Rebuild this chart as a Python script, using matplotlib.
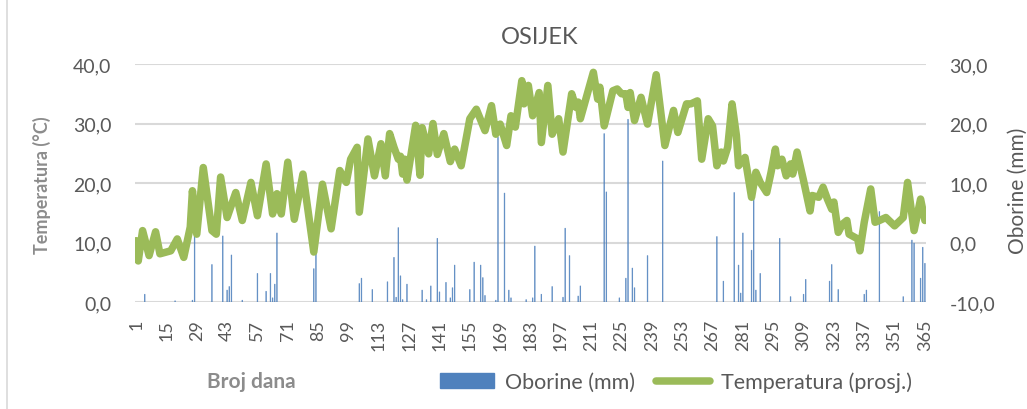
import matplotlib
matplotlib.use('Agg')
import matplotlib.pyplot as plt
from matplotlib.patches import Patch
from matplotlib.lines import Line2D

# temperature (right-hand scale values) at its turning points
temp_days = [1, 2, 4, 7, 10, 12, 17, 20, 23, 26, 27, 29, 32, 36, 38, 40, 43, 47, 50,
             54, 57, 61, 64, 66, 68, 71, 74, 78, 83, 87, 91, 95, 98, 100, 103, 104,
             108, 111, 114, 116, 118, 120, 122, 123, 124, 125, 126, 130, 132, 133,
             136, 138, 140, 143, 146, 148, 151, 155, 158, 162, 165, 167, 169, 172,
             174, 176, 179, 180, 182, 184, 187, 188, 191, 193, 196, 198, 202, 204,
             205, 206, 209, 212, 214, 215, 217, 221, 223, 225, 227, 228, 229, 231,
             234, 237, 241, 245, 249, 251, 255, 257, 260, 262, 265, 267, 269, 271,
             272, 274, 276, 278, 279, 282, 285, 287, 289, 292, 294, 296, 297, 299,
             301, 303, 304, 306, 309, 312, 313, 316, 318, 320, 322, 323, 325, 327,
             329, 330, 334, 335, 337, 340, 342, 344, 347, 351, 355, 357, 360, 363, 365]
temp_vals = [0.3, -3.1, 2.0, -2.2, 1.8, -1.9, -1.4, 0.6, -2.5, 2.6, 8.7, 1.4, 12.6, 2.0,
             1.4, 11.0, 4.2, 8.4, 3.7, 10.1, 4.5, 13.2, 4.8, 8.2, 4.8, 13.5, 3.9, 11.5,
             -1.6, 9.8, 2.3, 12.1, 10.1, 14.0, 16.0, 5.1, 17.4, 11.2, 16.6, 11.2, 18.3,
             16.0, 14.0, 14.5, 11.5, 14.0, 10.5, 19.7, 11.3, 19.3, 14.9, 20.0, 14.8,
             18.3, 13.6, 15.7, 12.9, 20.8, 22.4, 18.8, 23.0, 18.2, 19.9, 16.3, 21.3,
             19.4, 27.2, 23.3, 26.4, 21.3, 25.2, 16.8, 26.4, 18.2, 20.8, 15.2, 25.0,
             22.7, 23.6, 20.8, 24.7, 28.6, 24.1, 26.1, 19.6, 25.5, 25.8, 25.0, 25.0,
             22.7, 25.2, 20.5, 24.4, 19.9, 28.2, 16.3, 22.2, 18.5, 23.3, 23.3, 23.8,
             14.0, 20.8, 19.6, 12.9, 15.2, 13.7, 16.0, 23.3, 18.0, 12.9, 14.3, 7.6,
             11.8, 10.1, 8.4, 11.8, 15.7, 12.9, 14.0, 11.2, 13.2, 11.5, 15.2, 10.4,
             5.3, 7.9, 7.6, 9.3, 7.3, 5.6, 6.8, 1.7, 3.1, 3.7, 1.4, 0.6, -1.4, 3.4,
             9.0, 3.4, 3.7, 4.2, 2.8, 4.2, 10.1, 2.0, 7.3, 3.7]

# daily precipitation (left-hand scale values)
rain_days = [5, 19, 27, 28, 36, 41, 43, 44, 45, 50, 57, 61, 63, 64, 65, 66, 83, 84,
             104, 105, 110, 117, 120, 121, 122, 123, 124, 126, 133, 135, 137, 140,
             141, 144, 146, 147, 148, 155, 157, 160, 161, 162, 167, 168, 171, 173,
             174, 181, 184, 185, 188, 193, 198, 199, 201, 205, 206, 217, 218, 224,
             227, 228, 230, 231, 237, 244, 269, 272, 277, 279, 280, 281, 285, 286,
             287, 289, 298, 303, 309, 310, 321, 322, 325, 337, 338, 344, 355, 359,
             360, 363, 364, 365]
rain_vals = [1.3, 0.2, 0.3, 11.1, 6.3, 11.1, 2.0, 2.6, 7.9, 0.3, 4.8, 1.8, 4.8, 0.7,
             3.0, 11.6, 5.6, 9.4, 3.1, 4.0, 2.1, 3.4, 7.5, 0.8, 12.5, 4.4, 0.4, 3.0,
             2.0, 0.4, 2.7, 10.7, 1.7, 3.3, 0.7, 2.4, 6.2, 2.1, 6.7, 6.2, 4.1, 1.1,
             0.3, 27.7, 18.3, 2.0, 0.7, 0.4, 0.7, 9.4, 1.3, 2.6, 0.8, 12.4, 7.8, 1.0,
             2.7, 28.3, 18.5, 0.7, 4.0, 30.7, 5.7, 2.4, 7.8, 23.7, 11.0, 3.5, 18.4,
             6.2, 1.5, 11.6, 8.7, 17.3, 2.0, 4.8, 10.7, 0.9, 1.3, 3.8, 3.5, 6.3, 2.1,
             1.3, 2.0, 15.2, 0.9, 10.4, 9.9, 4.0, 9.2, 6.5]

xticks = list(range(1, 366, 14))
left_ticks = [0, 10, 20, 30, 40]
right_ticks = [-10, 0, 10, 20, 30]

BLUE = '#4F81BD'
GREEN = '#9BBB59'
GREY = '#595959'
FONT = 'Lato'

plt.rcParams['font.family'] = [FONT, 'DejaVu Sans']

fig = plt.figure(figsize=(10.27, 4.10), dpi=100)
ax = fig.add_axes([135 / 1027, 107 / 410, 791 / 1027, 238 / 410])
ax2 = ax.twinx()

ax.bar(rain_days, rain_vals, width=0.3, color=BLUE, edgecolor=BLUE, lw=0.5,
       alpha=0.75, snap=False, zorder=2)
ax2.plot(temp_days, temp_vals, color=GREEN, lw=5.4, solid_joinstyle='round',
         solid_capstyle='round', zorder=3)

ax.set_xlim(0.5, 365.5)
ax.set_ylim(0, 40)
ax2.set_ylim(-10, 30)

ax.set_yticks(left_ticks)
ax.set_yticklabels([('%.1f' % v).replace('.', ',') for v in left_ticks])
ax2.set_yticks(right_ticks)
ax2.set_yticklabels([('%.1f' % v).replace('.', ',') for v in right_ticks])
ax.set_xticks(xticks)
ax.set_xticklabels([str(d) for d in xticks], rotation=90, va='top', ha='center')

ax.grid(axis='y', color='#D9D9D9', lw=1.5, zorder=0)
ax.set_axisbelow(True)
for a in (ax, ax2):
  for s in a.spines.values():
    s.set_visible(False)
ax.tick_params(axis='y', length=0, pad=17, labelsize=14, labelcolor=GREY)
ax2.tick_params(axis='y', length=0, pad=17, labelsize=14, labelcolor=GREY)
ax.tick_params(axis='x', length=0, pad=12, labelsize=13, labelcolor=GREY)

fig.text(540 / 1027, 1 - 37 / 410, 'OSIJEK', fontsize=17, color=GREY,
         ha='center', va='center')
fig.text(42 / 1027, 1 - 185 / 410, 'Temperatura (°C)', rotation=90, fontsize=13,
         color='#8C8C8C', fontweight='bold', ha='center', va='center')
fig.text(1018 / 1027, 1 - 191 / 410, 'Oborine (mm)', rotation=90, fontsize=15,
         color=GREY, ha='center', va='center')
fig.text(251 / 1027, 1 - 382 / 410, 'Broj dana', fontsize=15, color='#8C8C8C',
         fontweight='bold', ha='center', va='center')

handles = [Patch(facecolor=BLUE, edgecolor=BLUE),
           Line2D([], [], color=GREEN, lw=5.4, solid_capstyle='round')]
fig.legend(handles, ['Oborine (mm)', 'Temperatura (prosj.)'], ncol=2,
           loc='center', bbox_to_anchor=(676 / 1027, 1 - 383 / 410), frameon=False,
           fontsize=15.5, handlelength=2.5, handletextpad=0.5, columnspacing=1.0,
           labelcolor=GREY)

fig.add_artist(Line2D([7 / 1027, 7 / 1027], [0, 1], color='#D9D9D9', lw=1.2))

fig.savefig('out.png', dpi=100)
